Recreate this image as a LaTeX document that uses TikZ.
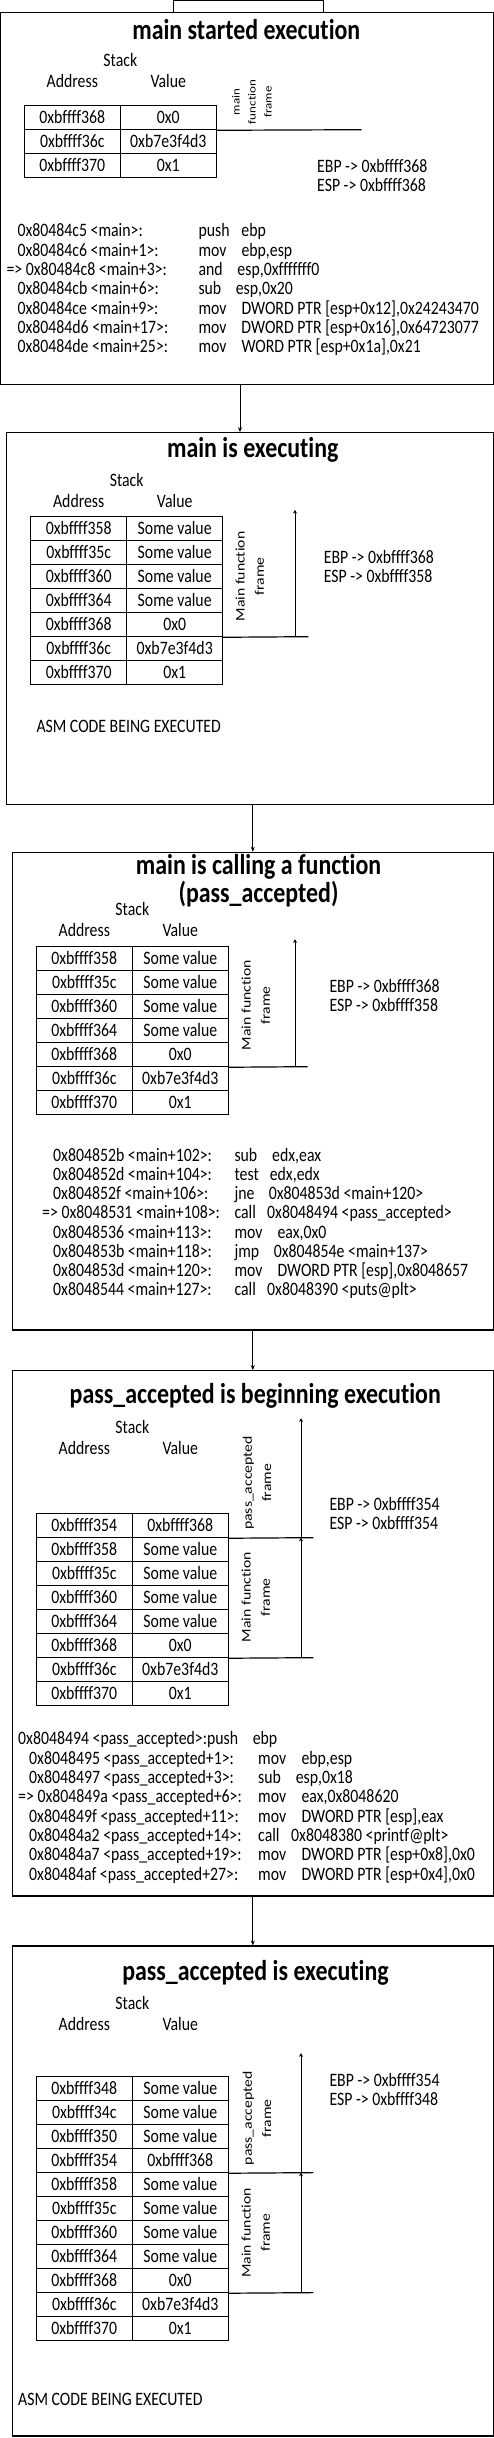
\documentclass[tikz,border=0pt]{standalone}
\usepackage{fontspec}
\setmainfont{Carlito}[Ligatures=NoCommon]
\usetikzlibrary{arrows.meta}

\newcommand{\bodyfont}{\fontsize{15.8}{16}\selectfont}
\newcommand{\titlefont}{\bfseries\fontsize{23.9}{23.7}\selectfont}
\newcommand{\sidefont}{\fontsize{13.1}{19.3}\selectfont}
\newcommand{\codeind}{\hspace*{11pt}}

\tikzset{
	box/.style={draw, inner sep=0pt, minimum width=481pt},
	cell/.style={draw, inner sep=0pt, minimum width=96pt, minimum height=20pt,
		font=\bodyfont, text height=10.5pt, text depth=0pt},
	lbl/.style={inner sep=0pt, font=\bodyfont, text height=10.5pt, text depth=0pt},
	regs/.style={inner sep=0pt, font=\bodyfont, align=left, anchor=west},
	side/.style={inner sep=0pt, font=\sidefont, rotate=90, align=center},
	ttl/.style={inner sep=0pt, font=\titlefont, anchor=base},
	code/.style={inner sep=0pt, font=\bodyfont, anchor=base west},
	link/.style={-{Stealth[length=4pt, width=4pt]}},
	framearrow/.style={-{Stealth[length=3pt, width=4pt]}}
}

\begin{document}
\begin{tikzpicture}
\useasboundingbox (0pt,0pt) rectangle (494pt,-2438pt);
\begin{scope}[transform canvas={yscale=1.2}, x=1pt, y=-0.8333pt, line width=1pt]

	%riquadro tagliato
	\draw (173.3,0.6) rectangle (323.3,12.3);

	%main started execution
	\node[box, minimum width=492.7pt, minimum height=310pt] (s1) at (246.95,198.3) {};
	\node[ttl] (t1) at (246.3,39.5) {main started execution};
	\node[lbl] (k1) at (120.3,60.3) {Stack};
	\node[lbl] (ad1) at (72.3,81.7) {Address};
	\node[lbl] (va1) at (168.3,81.7) {Value};
	\foreach \a/\v [count=\i] in {0xbffff368/0x0, 0xbffff36c/0xb7e3f4d3, 0xbffff370/0x1}{
		\node[cell] (a1-\i) at (72.3,93.7+24*\i) {\a};
		\node[cell] (v1-\i) at (168.3,93.7+24*\i) {\v};
	}
	\draw (v1-1.south east) -- (361.7,129.7);
	\node[side, font=\fontsize{10.8}{16}\selectfont] (f1) at (252,102) {main\\function\\frame};
	\node[regs] (r1) at (316.7,175.1) {EBP -> 0xbffff368\\ESP -> 0xbffff368};
	\node[code] (c1) at (6,237) {\begin{tabular}[t]{@{}p{192pt}@{}p{43pt}@{}l@{}}
		\codeind 0x80484c5 <main>: & push & ebp\\
		\codeind 0x80484c6 <main+1>: & mov & ebp,esp\\
		=> 0x80484c8 <main+3>: & and & \hspace{-4pt}esp,0xfffffff0\\
		\codeind 0x80484cb <main+6>: & sub & \hspace{-5.7pt}esp,0x20\\
		\codeind 0x80484ce <main+9>: & mov & DWORD PTR [esp+0x12],0x24243470\\
		\codeind 0x80484d6 <main+17>: & mov & DWORD PTR [esp+0x16],0x64723077\\
		\codeind 0x80484de <main+25>: & mov & WORD PTR [esp+0x1a],0x21
	\end{tabular}};

	%main is executing
	\node[box, minimum width=487pt, minimum height=309.7pt] (s2) at (249.8,618.5) {};
	\node[ttl] (t2) at (252.8,457.5) {main is executing};
	\node[lbl] (k2) at (126.7,480) {Stack};
	\node[lbl] (ad2) at (78.7,501.2) {Address};
	\node[lbl] (va2) at (174.7,501.2) {Value};
	\foreach \a/\v [count=\i] in {0xbffff358/Some value, 0xbffff35c/Some value,
		0xbffff360/Some value, 0xbffff364/Some value, 0xbffff368/0x0,
		0xbffff36c/0xb7e3f4d3, 0xbffff370/0x1}{
		\node[cell] (a2-\i) at (78.7,504.7+24*\i) {\a};
		\node[cell] (v2-\i) at (174.7,504.7+24*\i) {\v};
	}
	\node[side] (f2) at (249.7,576.5) {Main function\\frame};
	\draw (v2-5.south east) -- (308.3,636.7);
	\coordinate (b2) at (295,636.7);
	\coordinate (e2) at (295,510);
	\draw[framearrow] (b2) -- (e2);
	\node[regs] (r2) at (323.3,566.8) {EBP -> 0xbffff368\\ESP -> 0xbffff358};
	\node[lbl, anchor=west] (asm2) at (36,726.2) {ASM CODE BEING EXECUTED};

	%main is calling a function
	\node[box, minimum height=398.1pt] (s3) at (252.8,1091.15) {};
	\node[ttl, anchor=center, align=center] (t3) at (258.5,880.5) {main is calling a function\\(pass\_accepted)};
	\node[lbl] (k3) at (132.3,909.7) {Stack};
	\node[lbl] (ad3) at (84.3,930.7) {Address};
	\node[lbl] (va3) at (180.3,930.7) {Value};
	\foreach \a/\v [count=\i] in {0xbffff358/Some value, 0xbffff35c/Some value,
		0xbffff360/Some value, 0xbffff364/Some value, 0xbffff368/0x0,
		0xbffff36c/0xb7e3f4d3, 0xbffff370/0x1}{
		\node[cell] (a3-\i) at (84.3,934.7+24*\i) {\a};
		\node[cell] (v3-\i) at (180.3,934.7+24*\i) {\v};
	}
	\node[side] (f3) at (255.7,1005.3) {Main function\\frame};
	\draw (v3-5.south east) -- (307.7,1066.7);
	\coordinate (b3) at (295,1066.7);
	\coordinate (e3) at (295,939.3);
	\draw[framearrow] (b3) -- (e3);
	\node[regs] (r3) at (329,995.8) {EBP -> 0xbffff368\\ESP -> 0xbffff358};
	\node[code] (c3) at (41.7,1161.3) {\begin{tabular}[t]{@{}p{192.3pt}@{}p{43pt}@{}l@{}}
		\codeind 0x804852b <main+102>: & sub & \hspace{-5.3pt}edx,eax\\
		\codeind 0x804852d <main+104>: & test & \hspace{-7.7pt}edx,edx\\
		\codeind 0x804852f <main+106>: & jne & \hspace{-8.7pt}0x804853d <main+120>\\
		=> 0x8048531 <main+108>: & call & \hspace{-10.3pt}0x8048494 <pass\_accepted>\\
		\codeind 0x8048536 <main+113>: & mov & eax,0x0\\
		\codeind 0x804853b <main+118>: & jmp & \hspace{-3.7pt}0x804854e <main+137>\\
		\codeind 0x804853d <main+120>: & mov & DWORD PTR [esp],0x8048657\\
		\codeind 0x8048544 <main+127>: & call & \hspace{-10.3pt}0x8048390 <puts@plt>
	\end{tabular}};

	%pass_accepted is beginning execution
	\node[box, minimum height=437.75pt] (s4) at (252.8,1633.35) {};
	\node[ttl] (t4) at (255.3,1404) {pass\_accepted is beginning execution};
	\node[lbl] (k4) at (132.3,1427.3) {Stack};
	\node[lbl] (ad4) at (84.3,1448.3) {Address};
	\node[lbl] (va4) at (180.3,1448.3) {Value};
	\foreach \a/\v [count=\i] in {0xbffff354/0xbffff368, 0xbffff358/Some value,
		0xbffff35c/Some value, 0xbffff360/Some value, 0xbffff364/Some value,
		0xbffff368/0x0, 0xbffff36c/0xb7e3f4d3, 0xbffff370/0x1}{
		\node[cell] (a4-\i) at (84.3,1501.7+24*\i) {\a};
		\node[cell] (v4-\i) at (180.3,1501.7+24*\i) {\v};
	}
	\node[side] (g4) at (257,1483) {pass\_accepted\\frame};
	\node[side] (f4) at (255.7,1597.2) {Main function\\frame};
	\draw (v4-1.south east) -- (313.3,1537.7);
	\draw (v4-6.south east) -- (313.3,1657.7);
	\coordinate (b4) at (301,1657.7);
	\coordinate (m4) at (301,1537.7);
	\coordinate (e4) at (301,1418.3);
	\draw[framearrow] (m4) -- (e4);
	\draw[framearrow] (b4) -- (m4);
	\node[regs] (r4) at (329,1513.5) {EBP -> 0xbffff354\\ESP -> 0xbffff354};
	\node[code] (c4) at (17.7,1745) {\begin{tabular}[t]{@{}p{240pt}@{}p{43.3pt}@{}l@{}}
		\multicolumn{3}{@{}l@{}}{\makebox[234.6pt][l]{0x8048494 <pass\_accepted>:push}ebp}\\
		\codeind 0x8048495 <pass\_accepted+1>: & mov & ebp,esp\\
		\codeind 0x8048497 <pass\_accepted+3>: & sub & \hspace{-5.7pt}esp,0x18\\
		=> 0x804849a <pass\_accepted+6>: & mov & eax,0x8048620\\
		\codeind 0x804849f <pass\_accepted+11>: & mov & DWORD PTR [esp],eax\\
		\codeind 0x80484a2 <pass\_accepted+14>: & call & \hspace{-10.3pt}0x8048380 <printf@plt>\\
		\codeind 0x80484a7 <pass\_accepted+19>: & mov & DWORD PTR [esp+0x8],0x0\\
		\codeind 0x80484af <pass\_accepted+27>: & mov & DWORD PTR [esp+0x4],0x0
	\end{tabular}};

	%pass_accepted is executing
	\node[box, minimum height=408.3pt] (s5) at (252.8,2191) {};
	\node[ttl] (t5) at (255.5,1980.7) {pass\_accepted is executing};
	\node[lbl] (k5) at (132.3,2003) {Stack};
	\node[lbl] (ad5) at (84.3,2024) {Address};
	\node[lbl] (va5) at (180.3,2024) {Value};
	\foreach \a/\v [count=\i] in {0xbffff348/Some value, 0xbffff34c/Some value,
		0xbffff350/Some value, 0xbffff354/0xbffff368, 0xbffff358/Some value,
		0xbffff35c/Some value, 0xbffff360/Some value, 0xbffff364/Some value,
		0xbffff368/0x0, 0xbffff36c/0xb7e3f4d3, 0xbffff370/0x1}{
		\node[cell] (a5-\i) at (84.3,2064.7+24*\i) {\a};
		\node[cell] (v5-\i) at (180.3,2064.7+24*\i) {\v};
	}
	\node[side] (g5) at (257,2118.3) {pass\_accepted\\frame};
	\node[side] (f5) at (255.7,2232.8) {Main function\\frame};
	\draw (v5-4.south east) -- (313.3,2172.7);
	\draw (v5-9.south east) -- (313.3,2292.7);
	\coordinate (b5) at (301,2292.7);
	\coordinate (m5) at (301,2172.7);
	\coordinate (e5) at (301,2053.3);
	\draw[framearrow] (m5) -- (e5);
	\draw[framearrow] (b5) -- (m5);
	\node[regs] (r5) at (329,2089.3) {EBP -> 0xbffff354\\ESP -> 0xbffff348};
	\node[lbl, anchor=west] (asm5) at (17.7,2399.2) {ASM CODE BEING EXECUTED};

	%frecce
	\draw[link] ([xshift=-6.95pt]s1.south) -- ([xshift=-6.95pt]s1.south |- s2.north);
	\draw[link] (s2.south -| s3.north) -- (s3.north);
	\draw[link] (s3.south) -- (s4.north);
	\draw[link] (s4.south) -- (s5.north);
\end{scope}
\end{tikzpicture}
\end{document}
